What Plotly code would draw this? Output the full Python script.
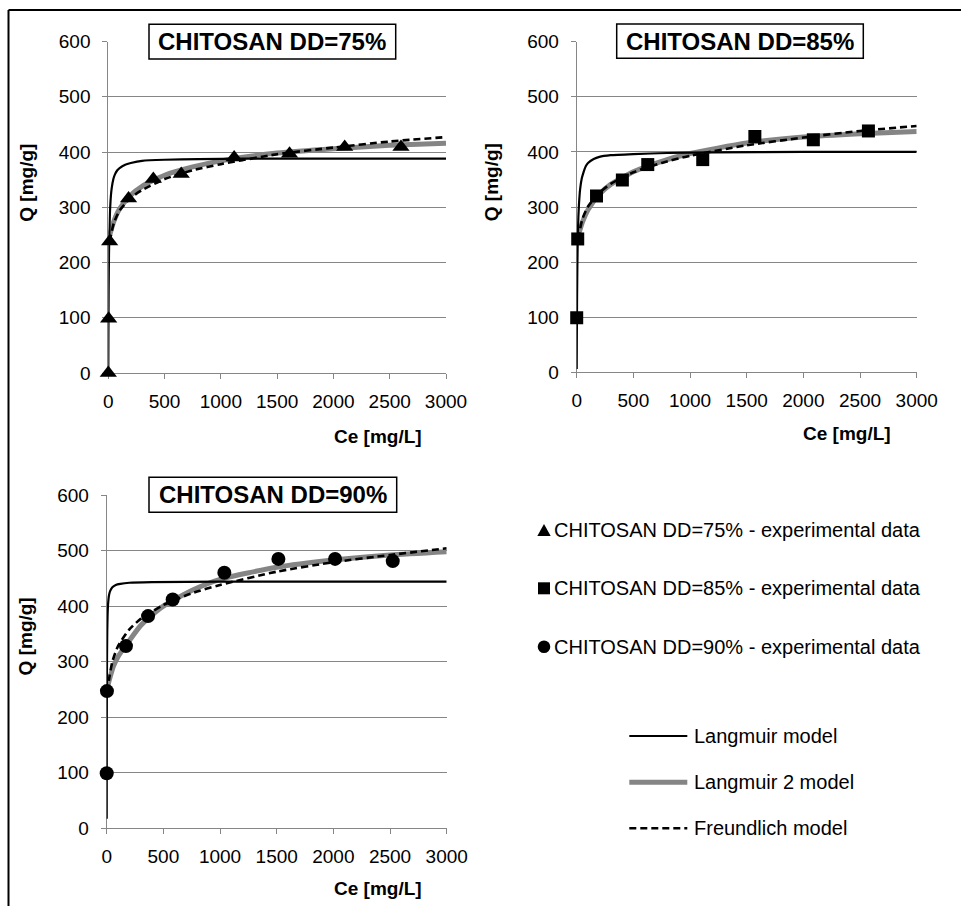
import plotly.graph_objects as go

W, H = 961, 906

# ---------------- data ----------------
titles = ["CHITOSAN DD=75%", "CHITOSAN DD=85%", "CHITOSAN DD=90%"]
x_ticks = [0, 500, 1000, 1500, 2000, 2500, 3000]
y_ticks = [0, 100, 200, 300, 400, 500, 600]

# DD=75%
exp75_c = [0, 3, 12, 180, 400, 648, 1118, 1610, 2100, 2600]
exp75_q = [0, 98, 238, 316, 351, 360, 390, 397, 409, 409]
lang75_c = [0, 1, 3, 6, 10, 15, 20, 30, 45, 60, 80, 100, 150, 200, 300, 500, 800, 1200, 2000, 3000]
lang75_q = [0, 65, 146, 213, 260, 292, 312, 334, 351, 360, 367, 371, 377, 380, 384, 386, 387, 388, 388, 388]
lang2_75_c = [5, 20, 50, 100, 200, 300, 500, 750, 1000, 1500, 2000, 2500, 3000]
lang2_75_q = [243, 255, 275, 297, 322, 338, 358, 373, 384, 398, 406, 412, 416]
freu75_c = [15, 20, 50, 100, 200, 300, 500, 750, 1000, 1500, 2000, 2500, 3000]
freu75_q = [238, 246, 272, 294, 317, 331, 351, 367, 378, 396, 408, 419, 427]

# DD=85%
exp85_c = [0, 9, 175, 403, 627, 1112, 1572, 2088, 2574]
exp85_q = [99, 242, 320, 349, 377, 386, 428, 422, 438]
lang85_c = [0.1, 1, 3, 6, 10, 15, 20, 30, 45, 60, 80, 100, 150, 200, 300, 500, 800, 1200, 2000, 3000]
lang85_q = [6, 55, 130, 196, 247, 283, 305, 332, 352, 363, 374, 380, 387, 391, 394, 396, 398, 399, 400, 400]
lang2_85_c = [5, 15, 50, 100, 200, 300, 500, 750, 1000, 1500, 2000, 2500, 3000]
lang2_85_q = [247, 250, 272, 295, 323, 341, 364, 383, 397, 416, 427, 433, 437]
freu85_c = [15, 20, 50, 100, 200, 300, 500, 750, 1000, 1500, 2000, 2500, 3000]
freu85_q = [242, 250, 278, 301, 326, 342, 363, 380, 393, 412, 426, 438, 447]

# DD=90%
exp90_c = [0, 2, 170, 365, 582, 1038, 1515, 2015, 2524]
exp90_q = [99, 247, 328, 382, 412, 460, 485, 485, 481]
lang90_c = [0.05, 0.5, 1, 2, 3, 5, 8, 12, 20, 30, 50, 80, 120, 200, 400, 1000, 3000]
lang90_q = [17, 127, 198, 274, 314, 356, 385, 403, 419, 427, 434, 438, 440, 442, 443, 444, 444]
lang2_90_c = [5, 10, 30, 60, 100, 200, 300, 400, 500, 750, 1000, 1500, 2000, 2500, 3000]
lang2_90_q = [250, 256, 272, 292, 309, 338, 365, 384, 400, 428, 448, 470, 483, 492, 498]
freu90_c = [10, 20, 50, 100, 200, 300, 500, 750, 1000, 1500, 2000, 2500, 3000]
freu90_q = [245, 267, 300, 328, 358, 377, 402, 423, 438, 462, 479, 492, 504]

legend_markers = ["CHITOSAN DD=75% - experimental data",
                  "CHITOSAN DD=85% - experimental data",
                  "CHITOSAN DD=90% - experimental data"]
legend_lines = ["Langmuir model", "Langmuir 2 model", "Freundlich model"]

# ---------------- styles ----------------
FONT = "Arial, Liberation Sans, sans-serif"
GRID = "#868686"
GREY_LINE = "#858585"


def fx(p):
    return p / W


def fy(p):
    return 1 - p / H


panels = [
    dict(x0=108.3, x1=446.0, ytop=41.5, ybot=373.0,
         exp=(exp75_c, exp75_q), sym="triangle-up", msize=15,
         lang=(lang75_c, lang75_q), lang2=(lang2_75_c, lang2_75_q), freu=(freu75_c, freu75_q),
         box=(149, 395.7, 24.3, 59.0), ylab=(25.7, 183), xlab=(377.5, 436)),
    dict(x0=576.7, x1=916.7, ytop=41.7, ybot=372.3,
         exp=(exp85_c, exp85_q), sym="square", msize=13,
         lang=(lang85_c, lang85_q), lang2=(lang2_85_c, lang2_85_q), freu=(freu85_c, freu85_q),
         box=(616.7, 863.3, 24.0, 58.3), ylab=(491.7, 182.5), xlab=(846.7, 433)),
    dict(x0=106.7, x1=446.7, ytop=495.0, ybot=828.3,
         exp=(exp90_c, exp90_q), sym="circle", msize=14,
         lang=(lang90_c, lang90_q), lang2=(lang2_90_c, lang2_90_q), freu=(freu90_c, freu90_q),
         box=(149, 396.7, 477.3, 512.3), ylab=(25.7, 636.7), xlab=(378, 888)),
]

fig = go.Figure()
layout = dict(
    template="none",
    width=W, height=H,
    margin=dict(l=0, r=0, t=0, b=0, pad=0),
    paper_bgcolor="white", plot_bgcolor="white",
    showlegend=False,
    font=dict(family=FONT, size=19, color="black"),
)
shapes = []
annotations = []

for i, p in enumerate(panels):
    sfx = "" if i == 0 else str(i + 1)
    xa, ya = "x" + sfx, "y" + sfx
    layout["xaxis" + sfx] = dict(
        domain=[fx(p["x0"]), fx(p["x1"])], anchor=ya, range=[0, 3000],
        tickvals=x_ticks, ticks="outside", ticklen=5, tickcolor=GRID, tickwidth=1,
        showline=True, linecolor=GRID, linewidth=1, showgrid=False, zeroline=False,
        layer="below traces", tickfont=dict(size=19, family=FONT, color="black"),
        ticklabelstandoff=6, fixedrange=True, automargin=False,
    )
    layout["yaxis" + sfx] = dict(
        domain=[fy(p["ybot"]), fy(p["ytop"])], anchor=xa, range=[0, 600],
        tickvals=y_ticks, ticks="outside", ticklen=5, tickcolor=GRID, tickwidth=1,
        showline=True, linecolor=GRID, linewidth=1, showgrid=True, gridcolor=GRID,
        gridwidth=1, zeroline=False, layer="below traces",
        tickfont=dict(size=19, family=FONT, color="black"),
        ticklabelstandoff=8, fixedrange=True, automargin=False,
    )
    # Langmuir 2 (grey thick)
    fig.add_trace(go.Scatter(x=p["lang2"][0], y=p["lang2"][1], xaxis=xa, yaxis=ya,
                             mode="lines", line=dict(color=GREY_LINE, width=5, shape="spline", smoothing=0.6),
                             name="Langmuir 2 model", cliponaxis=False))
    # Langmuir (black solid)
    fig.add_trace(go.Scatter(x=p["lang"][0], y=p["lang"][1], xaxis=xa, yaxis=ya,
                             mode="lines", line=dict(color="black", width=2.2, shape="spline", smoothing=0.4),
                             name="Langmuir model", cliponaxis=False))
    # Freundlich (black dashed)
    fig.add_trace(go.Scatter(x=p["freu"][0], y=p["freu"][1], xaxis=xa, yaxis=ya,
                             mode="lines", line=dict(color="black", width=2.6, dash="7px,4px",
                                                     shape="spline", smoothing=0.6),
                             name="Freundlich model", cliponaxis=False))
    # experimental points
    fig.add_trace(go.Scatter(x=p["exp"][0], y=p["exp"][1], xaxis=xa, yaxis=ya,
                             mode="markers",
                             marker=dict(symbol=p["sym"], size=p["msize"], color="black",
                                         line=dict(width=0)),
                             name=legend_markers[i], cliponaxis=False))
    # title box
    bx0, bx1, by0, by1 = p["box"]
    shapes.append(dict(type="rect", xref="paper", yref="paper",
                       x0=fx(bx0), x1=fx(bx1), y0=fy(by1), y1=fy(by0),
                       fillcolor="white", line=dict(color="black", width=1.5), layer="above"))
    annotations.append(dict(text="<b>%s</b>" % titles[i], xref="paper", yref="paper",
                            x=fx((bx0 + bx1) / 2), y=fy((by0 + by1) / 2),
                            xanchor="center", yanchor="middle", showarrow=False,
                            font=dict(size=24, family=FONT, color="black")))
    # axis titles
    annotations.append(dict(text="<b>Q [mg/g]</b>", xref="paper", yref="paper",
                            x=fx(p["ylab"][0]), y=fy(p["ylab"][1]), textangle=-90,
                            xanchor="center", yanchor="middle", showarrow=False,
                            font=dict(size=19, family=FONT, color="black")))
    annotations.append(dict(text="<b>Ce [mg/L]</b>", xref="paper", yref="paper",
                            x=fx(p["xlab"][0]), y=fy(p["xlab"][1]),
                            xanchor="center", yanchor="middle", showarrow=False,
                            font=dict(size=19, family=FONT, color="black")))

# outer frame (top and left edges)
shapes.append(dict(type="line", xref="paper", yref="paper", x0=fx(8.5), x1=fx(961), y0=fy(10), y1=fy(10),
                   line=dict(color="black", width=2)))
shapes.append(dict(type="line", xref="paper", yref="paper", x0=fx(8.5), x1=fx(8.5), y0=fy(10), y1=fy(906),
                   line=dict(color="black", width=2)))

# ---------------- manual legend ----------------
mk_x = 544
mk_y = [530, 588.3, 646.7]
# triangle
cx, cy = mk_x, mk_y[0]
shapes.append(dict(type="path", xref="paper", yref="paper",
                   path="M %f %f L %f %f L %f %f Z" % (fx(cx - 6.7), fy(cy + 6), fx(cx + 6.7), fy(cy + 6),
                                                       fx(cx), fy(cy - 6)),
                   fillcolor="black", line=dict(width=0)))
# square
cx, cy = mk_x, mk_y[1]
shapes.append(dict(type="rect", xref="paper", yref="paper", x0=fx(cx - 6), x1=fx(cx + 6),
                   y0=fy(cy + 6), y1=fy(cy - 6), fillcolor="black", line=dict(width=0)))
# circle
cx, cy = mk_x, mk_y[2]
shapes.append(dict(type="circle", xref="paper", yref="paper", x0=fx(cx - 6.3), x1=fx(cx + 6.3),
                   y0=fy(cy + 6.3), y1=fy(cy - 6.3), fillcolor="black", line=dict(width=0)))
for txt, yy in zip(legend_markers, mk_y):
    annotations.append(dict(text=txt, xref="paper", yref="paper", x=fx(552), y=fy(yy),
                            xanchor="left", yanchor="middle", showarrow=False,
                            font=dict(size=20, family=FONT, color="black")))

ln_y = [736, 782.3, 828.3]
line_styles = [dict(color="black", width=2.2),
               dict(color=GREY_LINE, width=5),
               dict(color="black", width=2.6, dash="7px,4px")]
for txt, yy, st in zip(legend_lines, ln_y, line_styles):
    shapes.append(dict(type="line", xref="paper", yref="paper", x0=fx(629.3), x1=fx(687.3),
                       y0=fy(yy), y1=fy(yy), line=st))
    annotations.append(dict(text=txt, xref="paper", yref="paper", x=fx(692), y=fy(yy),
                            xanchor="left", yanchor="middle", showarrow=False,
                            font=dict(size=20, family=FONT, color="black")))

layout["shapes"] = shapes
layout["annotations"] = annotations
fig.update_layout(**layout)
fig.write_html("out.html",
               config={"displayModeBar": False, "staticPlot": True},
               post_script="document.body.style.margin='0';document.body.style.padding='0';"
                           "document.documentElement.style.overflow='hidden';")
